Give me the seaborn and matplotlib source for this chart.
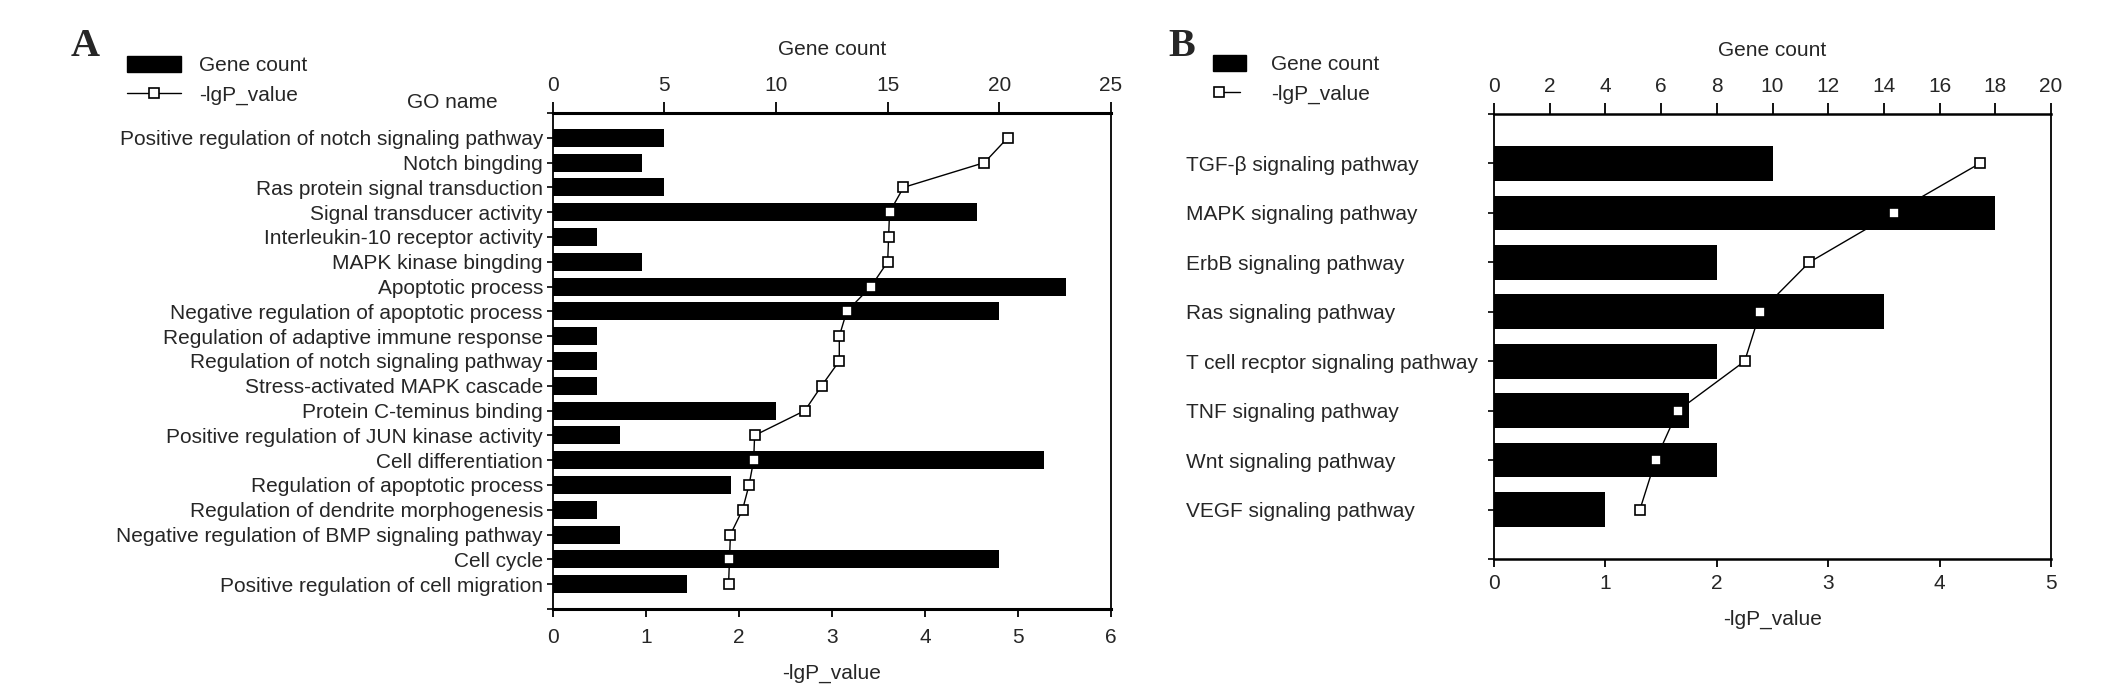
import numpy as np
import pandas as pd
import matplotlib
matplotlib.use('Agg')
import matplotlib.pyplot as plt
from matplotlib.patches import Patch
from matplotlib.lines import Line2D
import seaborn as sns

sns.set_theme(style='white')
plt.rcParams['font.family'] = ['Liberation Sans', 'DejaVu Sans']

# ------------------------------------------------------------
# Data
# ------------------------------------------------------------
go_names = [
    'Positive regulation of notch signaling pathway',
    'Notch bingding',
    'Ras protein signal transduction',
    'Signal transducer activity',
    'Interleukin-10 receptor activity',
    'MAPK kinase bingding',
    'Apoptotic process',
    'Negative regulation of apoptotic process',
    'Regulation of adaptive immune response',
    'Regulation of notch signaling pathway',
    'Stress-activated MAPK cascade',
    'Protein C-teminus binding',
    'Positive regulation of JUN kinase activity',
    'Cell differentiation',
    'Regulation of apoptotic process',
    'Regulation of dendrite morphogenesis',
    'Negative regulation of BMP signaling pathway',
    'Cell cycle',
    'Positive regulation of cell migration',
]
go_counts = [5, 4, 5, 19, 2, 4, 23, 20, 2, 2, 2, 10, 3, 22, 8, 2, 3, 20, 6]
go_lgp = [4.89, 4.64, 3.77, 3.62, 3.61, 3.60, 3.42, 3.16, 3.08, 3.08,
          2.89, 2.71, 2.17, 2.16, 2.11, 2.04, 1.91, 1.90, 1.89]

kegg_names = [
    'TGF-β signaling pathway',
    'MAPK signaling pathway',
    'ErbB signaling pathway',
    'Ras signaling pathway',
    'T cell recptor signaling pathway',
    'TNF signaling pathway',
    'Wnt signaling pathway',
    'VEGF signaling pathway',
]
kegg_counts = [10, 18, 8, 14, 8, 7, 8, 4]
kegg_lgp = [4.36, 3.59, 2.83, 2.39, 2.25, 1.65, 1.45, 1.31]

FS = 15
W, H = 2126, 695

fig = plt.figure(figsize=(W / 100, H / 100), dpi=100)
fig.patch.set_facecolor('white')


def draw_panel(rect, names, counts, lgp, cmax, cstep, lmax, bar_w,
               tb_lw, side_lw, bot_pad, bot_lpad):
    n = len(names)
    ax = fig.add_axes(rect)
    df = pd.DataFrame({'name': names, 'count': counts})
    sns.barplot(data=df, x='count', y='name', color='black', saturation=1,
                width=bar_w, linewidth=0, orient='h', ax=ax)

    # -lgP line on a twin axis (drawn above the bars)
    tw = ax.twiny()
    tw.plot(lgp, np.arange(n), color='black', lw=1.0, marker='s', ms=7,
            mfc='white', mec='black', mew=1.2, zorder=5)
    tw.set_xlim(0, lmax)
    tw.set_xticks(range(0, lmax + 1))
    tw.xaxis.tick_bottom()
    tw.xaxis.set_label_position('bottom')
    tw.set_xlabel('-lgP_value', fontsize=FS, labelpad=bot_lpad)
    tw.tick_params(axis='x', bottom=True, top=False, labelbottom=True,
                   labeltop=False, length=6, width=1.3, color='black',
                   labelsize=FS, pad=bot_pad)
    for s in tw.spines.values():
        s.set_visible(False)

    # gene count axis on top
    ax.set_xlim(0, cmax)
    ax.set_xticks(np.arange(0, cmax + 0.1, cstep))
    ax.xaxis.tick_top()
    ax.xaxis.set_label_position('top')
    ax.set_xlabel('Gene count', fontsize=FS, labelpad=15)
    ax.set_ylabel('')
    ax.set_yticks(range(-1, n + 1))
    ax.set_yticklabels([''] + names + [''])
    ax.set_ylim(n, -1)
    ax.tick_params(axis='x', top=True, bottom=False, labeltop=True,
                   labelbottom=False, length=8, width=1.3, color='black',
                   labelsize=FS, pad=5)
    ax.tick_params(axis='y', left=True, length=4, width=1.2, color='black',
                   labelsize=FS, pad=3)
    for s in ['top', 'bottom']:
        ax.spines[s].set_linewidth(tb_lw)
    for s in ['left', 'right']:
        ax.spines[s].set_linewidth(side_lw)
    for s in ax.spines.values():
        s.set_color('black')
        s.set_visible(True)
    return ax, tw


# Panel A
axA, twA = draw_panel([552.7 / W, 1 - 609 / H, 558.3 / W, 496 / H],
                      go_names, go_counts, go_lgp, 25, 5, 6, 0.72, 2.2, 1.3,
                      8, 12)

# Panel B
axB, twB = draw_panel([1494 / W, 1 - 559 / H, 557 / W, 445 / H],
                      kegg_names, kegg_counts, kegg_lgp, 20, 2, 5, 0.70, 1.8, 1.3,
                      5, 12)
# left-aligned category labels in panel B
axB.tick_params(axis='y', pad=218)
for lab in axB.get_yticklabels():
    lab.set_horizontalalignment('left')

fig.text(452 / W, 1 - 102 / H, 'GO name', ha='center', va='center', fontsize=FS)
fig.text(71 / W, 1 - 46 / H, 'A', ha='left', va='center', fontsize=29,
         fontweight='bold', family='Liberation Serif')
fig.text(1168 / W, 1 - 46 / H, 'B', ha='left', va='center', fontsize=29,
         fontweight='bold', family='Liberation Serif')

labels = ['Gene count', '-lgP_value']


def legend_handles():
    return [Patch(facecolor='black', edgecolor='black'),
            Line2D([], [], color='black', lw=1.0, marker='s', ms=7,
                   mfc='white', mec='black', mew=1.2)]


fig.legend(legend_handles(), labels, loc='upper left',
           bbox_to_anchor=(127 / W, 1 - 56 / H), numpoints=1,
           frameon=False, fontsize=FS, handlelength=2.6, handleheight=0.8,
           handletextpad=0.85, labelspacing=0.5, borderpad=0, borderaxespad=0)

legB = fig.legend(legend_handles(), labels, loc='upper left',
                  bbox_to_anchor=(1213 / W, 1 - 55 / H), numpoints=2,
                  frameon=False, fontsize=FS, handlelength=1.6, handleheight=0.8,
                  handletextpad=1.2, labelspacing=0.5, borderpad=0,
                  borderaxespad=0)
# marker only at the left end of the line, as in panel B's key
legB.legend_handles[1].set_markevery([0])

fig.savefig('out.png', dpi=100, facecolor='white')
